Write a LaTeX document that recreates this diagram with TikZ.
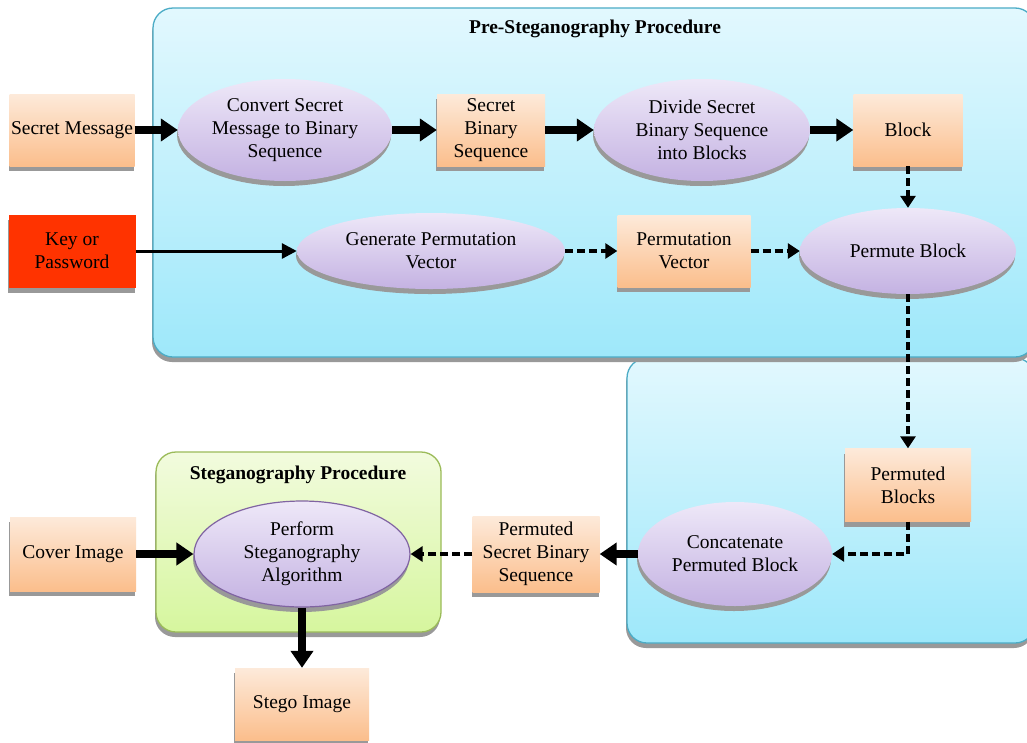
\documentclass[tikz,border=0pt]{standalone}
\usepackage{fontspec}
\setmainfont{Liberation Serif}
\usetikzlibrary{shapes.geometric,shadows,arrows.meta}
\definecolor{peachT}{RGB}{253,234,218}
\definecolor{peachB}{RGB}{251,190,140}
\definecolor{lavT}{RGB}{238,232,248}
\definecolor{lavB}{RGB}{196,178,226}
\definecolor{cyanT}{RGB}{226,248,254}
\definecolor{cyanB}{RGB}{158,232,250}
\definecolor{cyanD}{RGB}{75,172,198}
\definecolor{grnT}{RGB}{242,251,222}
\definecolor{grnB}{RGB}{214,246,158}
\definecolor{grnD}{RGB}{155,187,89}
\definecolor{keyred}{RGB}{255,51,0}
\definecolor{purpD}{RGB}{128,100,162}
\begin{document}
\begin{tikzpicture}[x=1pt,y=-1pt,
  every node/.style={font=\fontsize{19.5}{23}\selectfont, align=center, inner sep=0pt},
  shad/.style={drop shadow={shadow xshift=-1pt, shadow yshift=-5pt, fill=black!40, opacity=1}},
  container/.style={rectangle, rounded corners=20pt, line width=1.3pt, shad},
  prebox/.style={container, draw=cyanD, top color=cyanT, bottom color=cyanB},
  stegbox/.style={container, draw=grnD, top color=grnT, bottom color=grnB},
  title/.style={font=\bfseries\fontsize{19.5}{23}\selectfont},
  databox/.style={rectangle, top color=peachT, bottom color=peachB, shad},
  keybox/.style={rectangle, fill=keyred, shad},
  procell/.style={ellipse, top color=lavT, bottom color=lavB, shad},
  thickarrow/.style={line width=7.5pt, -{Triangle[length=17pt,width=22pt]}},
  dasharrow/.style={line width=3.2pt, dash pattern=on 8pt off 4pt, -{Triangle[length=12pt,width=15pt]}},
  thinarrow/.style={line width=3pt, -{Triangle[length=15pt,width=15pt]}}
]
\useasboundingbox (0,0) rectangle (1027,742);
\fill[white] (0,0) rectangle (1027,742);

% containers
\node[prebox, minimum width=408pt, minimum height=285pt] (post) at (831,500.5) {};
\node[prebox, minimum width=882pt, minimum height=349pt] (pre) at (594,182.5) {};
\node[stegbox, minimum width=285pt, minimum height=180pt] (steg) at (298.5,542) {};
\node[title] (pretitle) at (595,29) {Pre-Steganography Procedure};
\node[title] (stegtitle) at (298,475) {Steganography Procedure};

% row 1
\node[databox, minimum width=125pt, minimum height=72pt] (sm) at (72,130) {Secret Message};
\node[procell, minimum width=214pt, minimum height=102pt] (conv) at (285,130) {Convert Secret\\Message to Binary\\Sequence};
\node[databox, minimum width=108pt, minimum height=72pt] (sbs) at (491,130) {Secret\\Binary\\Sequence};
\node[procell, minimum width=216pt, minimum height=102pt] (div) at (702,130) {Divide Secret\\Binary Sequence\\into Blocks};
\node[databox, minimum width=109pt, minimum height=72pt] (blk) at (908,130) {Block};

% row 2
\node[keybox, minimum width=127pt, minimum height=73pt] (key) at (72,251) {Key or\\Password};
\node[procell, minimum width=268pt, minimum height=76pt] (gen) at (431,251) {Generate Permutation\\Vector};
\node[databox, minimum width=133pt, minimum height=72pt] (pv) at (684,251) {Permutation\\Vector};
\node[procell, minimum width=216pt, minimum height=86pt] (perm) at (908,251) {Permute Block};

% lower part
\node[databox, minimum width=126pt, minimum height=73pt] (pbs) at (908,485) {Permuted\\Blocks};
\node[procell, minimum width=194pt, minimum height=104pt] (conc) at (735,554) {Concatenate\\Permuted Block};
\node[databox, minimum width=127pt, minimum height=76pt] (psbs) at (536,554) {Permuted\\Secret Binary\\Sequence};
\node[procell, draw=purpD, line width=1.2pt, minimum width=216pt, minimum height=106pt] (perf) at (302,554) {Perform\\Steganography\\Algorithm};
\node[databox, minimum width=126pt, minimum height=74pt] (ci) at (73,554) {Cover Image};
\node[databox, minimum width=134pt, minimum height=72pt] (si) at (302,704) {Stego Image};

% connectors
\draw[thickarrow] (sm.east) -- (conv.west);
\draw[thickarrow] (conv.east) -- (sbs.west);
\draw[thickarrow] (sbs.east) -- (div.west);
\draw[thickarrow] (div.east) -- (blk.west);
\draw[dasharrow] (blk.south) -- (perm.north);
\draw[thinarrow] (key.east) -- (gen.west);
\draw[dasharrow] (gen.east) -- (pv.west);
\draw[dasharrow] (pv.east) -- (perm.west);
\draw[dasharrow] (perm.south) -- (pbs.north);
\draw[dasharrow] (pbs.south) -- (pbs.south |- conc.east) -- (conc.east);
\draw[thickarrow] (conc.west) -- (psbs.east);
\draw[dasharrow] (psbs.west) -- (perf.east);
\draw[thickarrow] (ci.east) -- (perf.west);
\draw[thickarrow] (perf.south) -- (si.north);
\end{tikzpicture}
\end{document}
